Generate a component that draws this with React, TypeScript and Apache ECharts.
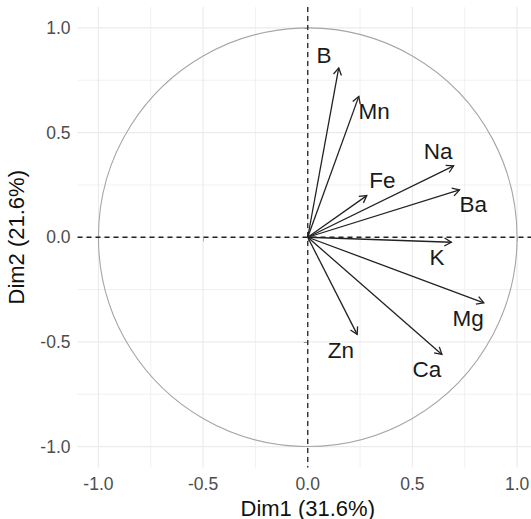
import React, { useEffect, useRef } from "react";
import * as echarts from "echarts";

const variables = ["B", "Mn", "Na", "Fe", "Ba", "K", "Mg", "Zn", "Ca"];
const dim1 = [0.148, 0.244, 0.697, 0.282, 0.725, 0.686, 0.841, 0.236, 0.641];
const dim2 = [0.809, 0.673, 0.341, 0.199, 0.226, -0.024, -0.313, -0.464, -0.56];
const labelDim1 = [0.078, 0.317, 0.623, 0.356, 0.791, 0.617, 0.766, 0.158, 0.569];
const labelDim2 = [0.868, 0.601, 0.41, 0.27, 0.155, -0.097, -0.39, -0.543, -0.634];
const majorTicks = [-1, -0.5, 0, 0.5, 1];
const minorTicks = [-0.75, -0.25, 0.25, 0.75];
const xTitle = "Dim1 (31.6%)";
const yTitle = "Dim2 (21.6%)";

const FONT = "'Liberation Sans', Arial, sans-serif";

export default function App() {
  const ref = useRef<HTMLDivElement>(null);
  useEffect(() => {
    document.body.style.margin = "0";
    const chart = echarts.init(ref.current!, null, { renderer: "svg" });

    const gridData: number[][] = [];
    majorTicks.forEach((v) => {
      gridData.push([v, 0, 1]);
      gridData.push([v, 1, 1]);
    });
    minorTicks.forEach((v) => {
      gridData.push([v, 0, 0]);
      gridData.push([v, 1, 0]);
    });

    const axisCommon = {
      type: "value" as const,
      min: -1.1,
      max: 1.1,
      splitLine: { show: false },
      axisLine: { show: false },
      axisTick: {
        show: true,
        length: 4,
        customValues: majorTicks,
        lineStyle: { color: "#333", width: 1 },
      },
      axisLabel: {
        customValues: majorTicks,
        formatter: (v: number) => v.toFixed(1),
        color: "#4d4d4d",
        fontSize: 17.5,
        fontFamily: FONT,
      },
      nameLocation: "middle" as const,
      nameTextStyle: { color: "#111", fontSize: 22, fontFamily: FONT },
    };

    chart.setOption({
      animation: false,
      backgroundColor: "#fff",
      grid: { left: 77.5, right: -7, top: 7, bottom: 51.5, outerBoundsMode: "none" },
      xAxis: {
        ...axisCommon,
        name: xTitle,
        nameGap: 19,
        axisLabel: { ...axisCommon.axisLabel, margin: 7 },
      },
      yAxis: {
        ...axisCommon,
        name: yTitle,
        nameGap: 50,
        axisLabel: { ...axisCommon.axisLabel, margin: 7 },
      },
      series: [
        {
          type: "custom",
          silent: true,
          z: 1,
          data: gridData,
          renderItem: (params: any, api: any) => {
            const cs = params.coordSys;
            const v = api.value(0);
            const orient = api.value(1);
            const major = api.value(2) === 1;
            const style = { stroke: "#ebebeb", lineWidth: major ? 1.2 : 0.7 };
            if (orient === 0) {
              const x = api.coord([v, 0])[0];
              return { type: "line", shape: { x1: x, y1: cs.y, x2: x, y2: cs.y + cs.height }, style };
            }
            const y = api.coord([0, v])[1];
            return { type: "line", shape: { x1: cs.x, y1: y, x2: cs.x + cs.width, y2: y }, style };
          },
        },
        {
          type: "custom",
          silent: true,
          z: 2,
          data: [[0, 0, 1]],
          renderItem: (params: any, api: any) => {
            const c = api.coord([api.value(0), api.value(1)]);
            const r = api.size([api.value(2), 0])[0];
            return {
              type: "circle",
              shape: { cx: c[0], cy: c[1], r },
              style: { fill: "none", stroke: "#a6a6a6", lineWidth: 1.1 },
            };
          },
        },
        {
          type: "custom",
          silent: true,
          z: 3,
          data: [[0, 0]],
          renderItem: (params: any, api: any) => {
            const cs = params.coordSys;
            const o = api.coord([api.value(0), api.value(1)]);
            const style = { stroke: "#222", lineWidth: 1.3, lineDash: [5, 4] };
            return {
              type: "group",
              children: [
                { type: "line", shape: { x1: o[0], y1: cs.y, x2: o[0], y2: cs.y + cs.height }, style },
                { type: "line", shape: { x1: cs.x, y1: o[1], x2: cs.x + cs.width, y2: o[1] }, style },
              ],
            };
          },
        },
        {
          type: "custom",
          silent: true,
          z: 4,
          data: dim1.map((x, i) => [x, dim2[i]]),
          renderItem: (params: any, api: any) => {
            const o = api.coord([0, 0]);
            const p = api.coord([api.value(0), api.value(1)]);
            const ang = Math.atan2(p[1] - o[1], p[0] - o[0]);
            const L = 8;
            const a = Math.PI / 6;
            const p1 = [p[0] - L * Math.cos(ang - a), p[1] - L * Math.sin(ang - a)];
            const p2 = [p[0] - L * Math.cos(ang + a), p[1] - L * Math.sin(ang + a)];
            const style = { stroke: "#222", lineWidth: 1.3, fill: "none" };
            return {
              type: "group",
              children: [
                { type: "line", shape: { x1: o[0], y1: o[1], x2: p[0], y2: p[1] }, style },
                { type: "polyline", shape: { points: [p1, p, p2] }, style },
              ],
            };
          },
        },
        {
          type: "custom",
          silent: true,
          z: 5,
          data: labelDim1.map((x, i) => [x, labelDim2[i], i]),
          renderItem: (params: any, api: any) => {
            const p = api.coord([api.value(0), api.value(1)]);
            return {
              type: "text",
              x: p[0],
              y: p[1],
              style: {
                text: variables[api.value(2)],
                fill: "#1a1a1a",
                fontSize: 22.5,
                fontFamily: FONT,
                align: "center",
                verticalAlign: "middle",
                textAlign: "center",
                textVerticalAlign: "middle",
              },
            };
          },
        },
      ],
    });
    return () => chart.dispose();
  }, []);
  return (
    <div
      ref={ref}
      style={{ position: "absolute", left: 0, top: 0, width: 531, height: 519 }}
    />
  );
}
